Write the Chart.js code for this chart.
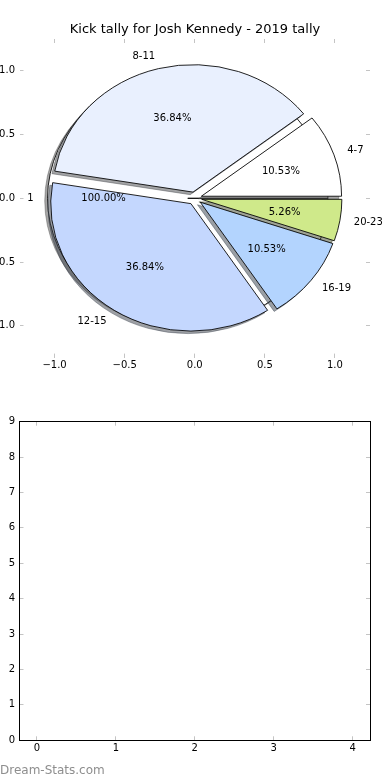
<!DOCTYPE html>
<html>
<head>
<meta charset="utf-8">
<script src="https://cdn.jsdelivr.net/npm/chart.js@4.4.1/dist/chart.umd.min.js"></script>
<style>
  body { margin: 0; background: #fff; }
  #wrap { position: relative; width: 390px; height: 780px; }
  canvas { position: absolute; left: 0; }
  #mark { position: absolute; left: 0; top: 763px; font: 12px 'DejaVu Sans'; line-height: 14px; color: #8e8e8e; }
</style>
</head>
<body>
<div id="wrap">
  <canvas id="pieBack" width="390" height="390" style="top:0"></canvas>
  <canvas id="pieFront" width="390" height="390" style="top:0"></canvas>
  <canvas id="empty" width="390" height="390" style="top:390px"></canvas>
  <div id="mark">Dream-Stats.com</div>
</div>
<script>
const titleText = 'Kick tally for Josh Kennedy - 2019 tally';

// slices, counter-clockwise from 3 o'clock
const kickRanges = ['4-7', '8-11', '12-15', '16-19', '20-23'];
const kickCounts = [2, 7, 7, 2, 1];
const sliceColors = ['#ffffff', '#e9f0fe', '#c4d7fe', '#b3d4fe', '#cfe98a'];

// the stray single-value pie drawn underneath
const totalLabels = ['1'];
const totalCounts = [1];

const pieTicks = [-1.0, -0.5, 0.0, 0.5, 1.0];
const emptyXTicks = [0, 1, 2, 3, 4];
const emptyYTicks = [0, 1, 2, 3, 4, 5, 6, 7, 8, 9];

const EXPLODE = 0.05;
const SHADOW = 0.02;

Chart.defaults.font.family = "'DejaVu Sans'";
Chart.defaults.font.size = 10;
Chart.defaults.color = '#000';

const fmt = v => v.toFixed(1).replace('-', '\u2212');
const tickGray = '#c4c4c4';
const clear = 'rgba(0,0,0,0)';

// matplotlib shadow colour: 0.3 x face colour, half transparent
function shade(hex) {
  const n = parseInt(hex.slice(1), 16);
  const r = Math.round(((n >> 16) & 255) * 0.3);
  const g = Math.round(((n >> 8) & 255) * 0.3);
  const b = Math.round((n & 255) * 0.3);
  return `rgba(${r},${g},${b},0.5)`;
}

function pieScales(show) {
  const col = show ? tickGray : clear;
  const txt = show ? '#000' : clear;
  const grid = { drawOnChartArea: false, tickLength: -4, tickColor: col, color: col };
  const setTicks = s => { s.ticks = pieTicks.map(v => ({ value: v })); };
  const base = { type: 'linear', min: -1.25, max: 1.25, afterBuildTicks: setTicks, grid, border: { display: false } };
  return {
    x: { ...base, position: 'bottom', afterFit: s => { s.height = 32.4; },
         ticks: { color: txt, padding: 6, maxRotation: 0, callback: fmt } },
    x2: { ...base, position: 'top', afterFit: s => { s.height = 1.4; }, ticks: { display: false } },
    y: { ...base, position: 'left', afterFit: s => { s.width = 19.5; },
         ticks: { color: txt, padding: 8.5, callback: fmt } },
    y2: { ...base, position: 'right', afterFit: s => { s.width = 20; }, ticks: { display: false } }
  };
}

// squash the round Chart.js pie onto the data axes (matplotlib pie without equal aspect)
const ellipsePie = {
  id: 'ellipsePie',
  afterDatasetsUpdate(chart) {
    const arcs = chart.getDatasetMeta(0).data;
    chart.$center = { x: arcs[0].x, y: arcs[0].y, r: arcs[0].outerRadius };
    arcs.forEach(arc => {
      const mid = (arc.startAngle + arc.endAngle) / 2;
      arc.x += Math.cos(mid) * EXPLODE * arc.outerRadius;
      arc.y += Math.sin(mid) * EXPLODE * arc.outerRadius;
    });
  },
  beforeDatasetsDraw(chart) {
    const { ctx } = chart;
    const { x: xs, y: ys } = chart.scales;
    const c = chart.$center;
    ctx.save();
    ctx.translate(xs.getPixelForValue(0), ys.getPixelForValue(0));
    ctx.scale((xs.getPixelForValue(1) - xs.getPixelForValue(0)) / c.r,
              (ys.getPixelForValue(1) - ys.getPixelForValue(0)) / c.r);
    ctx.translate(-c.x, -c.y);
    // shadows first, underneath every wedge
    ctx.save();
    ctx.translate(-SHADOW * c.r, -SHADOW * c.r);
    chart.getDatasetMeta(0).data.forEach(arc => {
      const ghost = Object.create(arc);
      const col = shade(arc.options.backgroundColor);
      ghost.options = { ...arc.options, backgroundColor: col, borderColor: col };
      arc.draw.call(ghost, ctx);
    });
    ctx.restore();
  },
  afterDatasetsDraw(chart) {
    chart.ctx.restore();
  }
};

function drawPieTexts(chart, source) {
  const { ctx } = chart;
  const { x: xs, y: ys } = chart.scales;
  const meta = source.getDatasetMeta(0);
  const values = source.data.datasets[0].data;
  const total = values.reduce((a, b) => a + b, 0);
  ctx.save();
  ctx.font = "10px 'DejaVu Sans'";
  ctx.fillStyle = '#000';
  ctx.textBaseline = 'middle';
  meta.data.forEach((arc, i) => {
    const mid = (arc.startAngle + arc.endAngle) / 2;
    const cx = Math.cos(mid), cy = Math.sin(mid);
    ctx.textAlign = cx > 0 ? 'left' : 'right';
    ctx.fillText(source.data.labels[i],
      xs.getPixelForValue((EXPLODE + 1.1) * cx), ys.getPixelForValue((EXPLODE + 1.1) * cy));
    ctx.textAlign = 'center';
    ctx.fillText((values[i] / total * 100).toFixed(2) + '%',
      xs.getPixelForValue((EXPLODE + 0.6) * cx), ys.getPixelForValue((EXPLODE + 0.6) * cy));
  });
  ctx.restore();
}

function pieOptions(show) {
  return {
    responsive: false,
    animation: false,
    events: [],
    rotation: 90,
    radius: 140,
    scales: pieScales(show),
    plugins: {
      legend: { display: false },
      tooltip: { enabled: false },
      title: {
        display: true, text: titleText, color: show ? '#000' : clear,
        font: { size: 13, weight: 'normal' }, padding: { top: 22, bottom: 0 }
      }
    }
  };
}

const backChart = new Chart(document.getElementById('pieBack'), {
  type: 'pie',
  data: {
    labels: totalLabels,
    datasets: [{ data: totalCounts, backgroundColor: '#ffffff', borderColor: '#000', borderWidth: 0.9 }]
  },
  options: pieOptions(true),
  plugins: [ellipsePie]
});

new Chart(document.getElementById('pieFront'), {
  type: 'pie',
  data: {
    labels: kickRanges,
    datasets: [{ data: kickCounts, backgroundColor: sliceColors, borderColor: '#000', borderWidth: 0.9 }]
  },
  options: pieOptions(false),
  plugins: [ellipsePie, {
    id: 'pieTexts',
    afterDraw(chart) {
      drawPieTexts(chart, backChart);
      drawPieTexts(chart, chart);
    }
  }]
});

// empty second subplot
const frameGrid = { drawOnChartArea: false, tickLength: -4, tickColor: tickGray, color: tickGray };
const frameBorder = { display: true, color: '#000', width: 1 };
const setX = s => { s.ticks = emptyXTicks.map(v => ({ value: v })); };
const setY = s => { s.ticks = emptyYTicks.map(v => ({ value: v })); };

new Chart(document.getElementById('empty'), {
  type: 'scatter',
  data: { datasets: [{ data: [] }] },
  options: {
    responsive: false,
    animation: false,
    events: [],
    plugins: { legend: { display: false }, tooltip: { enabled: false } },
    scales: {
      x: { type: 'linear', position: 'bottom', min: -0.22, max: 4.22, afterBuildTicks: setX,
           afterFit: s => { s.height = 39.7; }, grid: frameGrid, border: frameBorder,
           ticks: { padding: 6, maxRotation: 0, callback: v => String(v) } },
      x2: { type: 'linear', position: 'top', min: -0.22, max: 4.22, afterBuildTicks: setX,
            afterFit: s => { s.height = 31.7; }, grid: frameGrid, border: frameBorder, ticks: { display: false } },
      y: { type: 'linear', position: 'left', min: 0, max: 9, afterBuildTicks: setY,
           afterFit: s => { s.width = 19.5; }, grid: frameGrid, border: frameBorder,
           ticks: { padding: 8.5, callback: v => String(v) } },
      y2: { type: 'linear', position: 'right', min: 0, max: 9, afterBuildTicks: setY,
            afterFit: s => { s.width = 20; }, grid: frameGrid, border: frameBorder, ticks: { display: false } }
    }
  }
});
</script>
</body>
</html>
